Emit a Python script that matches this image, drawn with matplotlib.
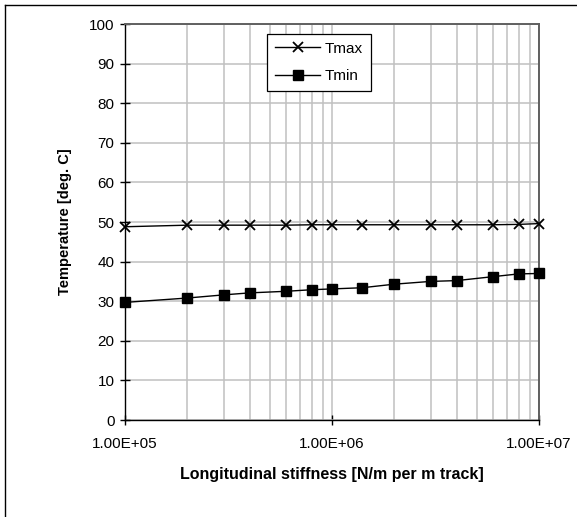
import matplotlib
matplotlib.use("Agg")
import matplotlib.pyplot as plt
from matplotlib.ticker import FixedLocator, FuncFormatter, LogLocator, NullFormatter
from matplotlib.lines import Line2D

plt.rcParams['font.family'] = ['Liberation Sans', 'DejaVu Sans']

stiffness = [1e5, 2e5, 3e5, 4e5, 6e5, 8e5, 1e6, 1.4e6, 2e6, 3e6, 4e6, 6e6, 8e6, 1e7]
t_max = [48.8, 49.2, 49.2, 49.2, 49.2, 49.3, 49.3, 49.3, 49.3, 49.3, 49.3, 49.3, 49.4, 49.6]
t_min = [29.7, 30.8, 31.6, 32.1, 32.5, 32.9, 33.1, 33.4, 34.3, 35.0, 35.2, 36.2, 36.9, 37.0]
y_ticks = list(range(0, 101, 10))
x_ticks = [1e5, 1e6, 1e7]

fig = plt.figure(figsize=(5.77, 5.17), dpi=100)
ax = fig.add_axes([125/577, 1 - 420/517, (539-125)/577, (420-24)/517])

ax.set_xscale('log')
ax.set_xlim(1e5, 1e7)
ax.set_ylim(0, 100)

ax.xaxis.set_major_locator(FixedLocator(x_ticks))
ax.xaxis.set_minor_locator(LogLocator(base=10, subs=range(2, 10)))
ax.xaxis.set_minor_formatter(NullFormatter())
ax.xaxis.set_major_formatter(FuncFormatter(lambda v, p: f"{v:.2E}"))
ax.yaxis.set_major_locator(FixedLocator(y_ticks))

ax.grid(True, which='major', axis='both', color='#c0c0c0', lw=1.1)
ax.grid(True, which='minor', axis='x', color='#c0c0c0', lw=1.1)
ax.set_axisbelow(True)

ax.tick_params(axis='both', which='major', direction='inout', length=7, width=1,
               labelsize=11, color='black')
ax.tick_params(axis='x', which='major', pad=9)
ax.tick_params(axis='y', which='major', pad=4)
ax.tick_params(axis='x', which='minor', length=0)

for s in ['left', 'bottom']:
    ax.spines[s].set_color('black')
    ax.spines[s].set_linewidth(1.0)
for s in ['top', 'right']:
    ax.spines[s].set_color('#606060')
    ax.spines[s].set_linewidth(1.4)

ax.plot(stiffness, t_max, color='black', lw=1.0, marker='x', ms=6.5, mew=1.3,
        label='Tmax', clip_on=False, zorder=3)
ax.plot(stiffness, t_min, color='black', lw=1.0, marker='s', ms=7,
        label='Tmin', clip_on=False, zorder=3)

ax.set_xlabel('Longitudinal stiffness [N/m per m track]', fontsize=11.5, fontweight='bold', labelpad=11)
ax.set_ylabel('Temperature [deg. C]', fontsize=10.5, fontweight='bold', labelpad=12)

leg = ax.legend(loc='upper left', bbox_to_anchor=((267-125)/414, 1 - (34-24)/396),
                frameon=True, fancybox=False, edgecolor='black', framealpha=1,
                fontsize=11, handlelength=3.0, borderpad=0.5, labelspacing=0.9,
                handletextpad=0.3, borderaxespad=0)
leg.get_frame().set_linewidth(0.9)

# outer chart-area border (left and top visible)
fig.add_artist(Line2D([5/577, 5/577], [0, 1 - 5/517], transform=fig.transFigure, color='black', lw=1))
fig.add_artist(Line2D([5/577, 1], [1 - 5/517, 1 - 5/517], transform=fig.transFigure, color='black', lw=1))

fig.savefig('out.png', dpi=100)
